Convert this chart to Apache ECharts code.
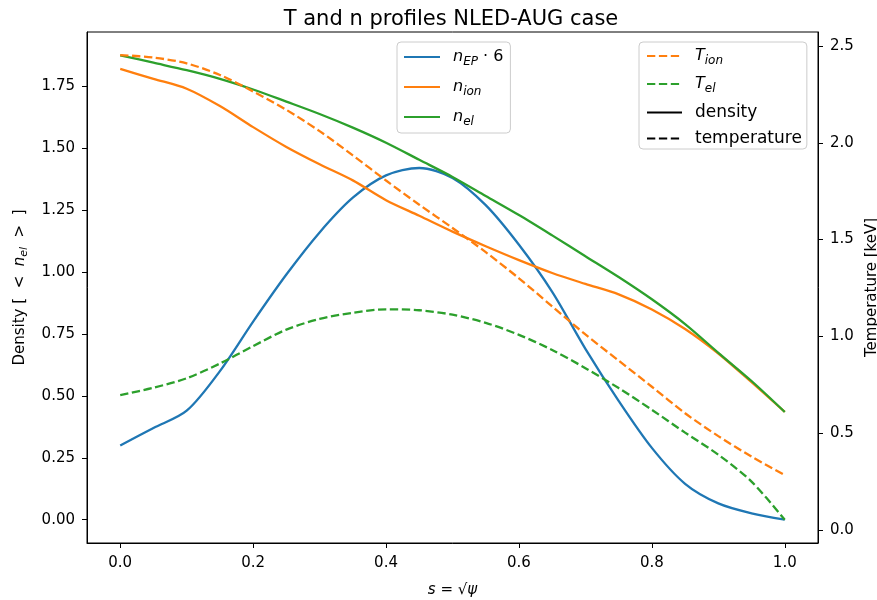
<!DOCTYPE html>
<html>
<head>
<meta charset="utf-8">
<script src="https://cdn.jsdelivr.net/npm/echarts@6/dist/echarts.min.js"></script>
<style>html,body{margin:0;padding:0;background:#fff;overflow:hidden}#chart{width:877px;height:600px}</style>
</head>
<body>
<div id="chart"></div>
<script>
const sVals = [0.0, 0.05, 0.1, 0.15, 0.2, 0.25, 0.3, 0.35, 0.4, 0.45, 0.5, 0.55, 0.6, 0.65, 0.7, 0.75, 0.8, 0.85, 0.9, 0.95, 1.0];
const nEP6 = [0.30, 0.37, 0.44, 0.60, 0.80, 0.99, 1.16, 1.30, 1.39, 1.42, 1.38, 1.27, 1.11, 0.92, 0.69, 0.48, 0.29, 0.145, 0.066, 0.026, 0.0];
const nIon = [1.82, 1.78, 1.74, 1.67, 1.585, 1.505, 1.435, 1.37, 1.29, 1.227, 1.163, 1.104, 1.048, 0.996, 0.952, 0.91, 0.849, 0.77, 0.671, 0.555, 0.435];
const nEl = [1.875, 1.845, 1.815, 1.78, 1.737, 1.688, 1.638, 1.583, 1.522, 1.453, 1.384, 1.307, 1.23, 1.148, 1.064, 0.98, 0.89, 0.79, 0.674, 0.56, 0.435];
const Tion = [2.453, 2.44, 2.41, 2.35, 2.265, 2.17, 2.06, 1.935, 1.805, 1.68, 1.56, 1.435, 1.30, 1.155, 1.01, 0.875, 0.74, 0.603, 0.485, 0.379, 0.284];
const Tel = [0.697, 0.735, 0.784, 0.86, 0.95, 1.035, 1.09, 1.122, 1.14, 1.135, 1.112, 1.07, 1.008, 0.93, 0.836, 0.733, 0.621, 0.503, 0.389, 0.25, 0.053];
const xTicks = [0.0, 0.2, 0.4, 0.6, 0.8, 1.0];
const leftTicks = [0.0, 0.25, 0.5, 0.75, 1.0, 1.25, 1.5, 1.75];
const rightTicks = [0.0, 0.5, 1.0, 1.5, 2.0, 2.5];

const FONT = 'DejaVu Sans';
const C_BLUE = '#1f77b4', C_ORANGE = '#ff7f0e', C_GREEN = '#2ca02c';
const LW = 2.3;
const DASH = [8.3, 3.6];

function pairs(xs, ys) { return xs.map((x, i) => [x, ys[i]]); }

const legRich = {
  sp: { width: 8 },
  i: { fontFamily: FONT, fontStyle: 'italic', fontSize: 16, lineHeight: 22, color: '#000', verticalAlign: 'middle' },
  sub: { fontFamily: FONT, fontStyle: 'italic', fontSize: 12, lineHeight: 13, color: '#000', verticalAlign: 'bottom' },
  r: { fontFamily: FONT, fontSize: 16, lineHeight: 22, color: '#000', verticalAlign: 'middle' },
  t: { fontFamily: FONT, fontSize: 17, lineHeight: 22, color: '#000', verticalAlign: 'middle' }
};
const axRich = {
  i: { fontFamily: FONT, fontStyle: 'italic', fontSize: 15, lineHeight: 20, color: '#000', verticalAlign: 'middle' },
  sub: { fontFamily: FONT, fontStyle: 'italic', fontSize: 11, lineHeight: 12, color: '#000', verticalAlign: 'bottom' },
  r: { fontFamily: FONT, fontSize: 15, lineHeight: 20, color: '#000', verticalAlign: 'middle' }
};
const labelMap = {
  nEP: '{sp|}{i|n}{sub|EP}{r| · 6}',
  nIon: '{sp|}{i|n}{sub|ion}',
  nEl: '{sp|}{i|n}{sub|el}',
  Tion: '{sp|}{i|T}{sub|ion}',
  Tel: '{sp|}{i|T}{sub|el}',
  density: '{sp|}{t|density}',
  temperature: '{sp|}{t|temperature}'
};

function lineSeries(name, ys, color, yIdx, dashed) {
  return {
    name: name, type: 'line', yAxisIndex: yIdx, data: pairs(sVals, ys),
    symbol: 'none', smooth: 0.3, color: color,
    lineStyle: { color: color, width: LW, type: dashed ? DASH : 'solid', cap: 'butt' },
    emphasis: { disabled: true }, z: dashed ? 3 : 2
  };
}

const axisCommon = {
  splitLine: { show: false },
  axisLine: { show: true, onZero: false, lineStyle: { color: '#000', width: 1 } },
  axisTick: { show: true, length: 5, lineStyle: { color: '#000', width: 1 } },
  axisLabel: { fontFamily: FONT, fontSize: 15, color: '#000' }
};

const legendCommon = {
  orient: 'vertical', itemHeight: 14,
  backgroundColor: 'rgba(255,255,255,0.8)', borderColor: '#cccccc', borderWidth: 1, borderRadius: 4,
  formatter: n => labelMap[n], textStyle: { rich: legRich }, selectedMode: false,
  itemStyle: { opacity: 0, borderWidth: 0 }
};

const chart = echarts.init(document.getElementById('chart'), null, { renderer: 'canvas', width: 877, height: 600 });
chart.setOption({
  animation: false,
  backgroundColor: '#fff',
  title: {
    text: 'T and n profiles NLED-AUG case',
    left: 446, top: 4, textAlign: 'center',
    textStyle: { fontFamily: FONT, fontSize: 21, fontWeight: 'normal', color: '#000' }
  },
  grid: { left: 87, right: 59, top: 32, bottom: 57, show: true, borderColor: '#000', borderWidth: 1, backgroundColor: 'transparent', containLabel: false, outerBoundsMode: 'none' },
  legend: [
    Object.assign({}, legendCommon, {
      data: ['nEP', 'nIon', 'nEl'], left: 397, top: 42,
      itemWidth: 36, itemGap: 11, padding: [7, 7, 5, 6]
    }),
    Object.assign({}, legendCommon, {
      data: ['Tion', 'Tel', 'density', 'temperature'], left: 639, top: 42,
      itemWidth: 35, itemGap: 9, padding: [6, 5, 2, 7]
    })
  ],
  xAxis: Object.assign({}, axisCommon, {
    type: 'value', min: -0.05, max: 1.05,
    axisTick: Object.assign({}, axisCommon.axisTick, { customValues: xTicks }),
    axisLabel: Object.assign({}, axisCommon.axisLabel, { customValues: xTicks, margin: 13, formatter: v => v.toFixed(1) }),
    name: '{i|s}{r| = √}{i|ψ}', nameLocation: 'middle', nameGap: 37,
    nameTextStyle: { rich: axRich }
  }),
  yAxis: [
    Object.assign({}, axisCommon, {
      type: 'value', min: -0.094, max: 1.969, position: 'left',
      axisTick: Object.assign({}, axisCommon.axisTick, { customValues: leftTicks }),
      axisLabel: Object.assign({}, axisCommon.axisLabel, { customValues: leftTicks, margin: 12, formatter: v => v.toFixed(2) }),
      name: '{r|Density [  <  }{i|n}{sub|el}{r|  >  ]}', nameLocation: 'middle', nameGap: 57, nameRotate: 90,
      nameTextStyle: { rich: axRich }
    }),
    Object.assign({}, axisCommon, {
      type: 'value', min: -0.067, max: 2.572, position: 'right',
      axisTick: Object.assign({}, axisCommon.axisTick, { customValues: rightTicks }),
      axisLabel: Object.assign({}, axisCommon.axisLabel, { customValues: rightTicks, margin: 12, formatter: v => v.toFixed(1) }),
      name: 'Temperature [keV]', nameLocation: 'middle', nameGap: 42, nameRotate: 90,
      nameTextStyle: { fontFamily: FONT, fontSize: 15, color: '#000' }
    })
  ],
  series: [
    lineSeries('nEP', nEP6, C_BLUE, 0, false),
    lineSeries('nIon', nIon, C_ORANGE, 0, false),
    lineSeries('nEl', nEl, C_GREEN, 0, false),
    lineSeries('Tion', Tion, C_ORANGE, 1, true),
    lineSeries('Tel', Tel, C_GREEN, 1, true),
    { name: 'density', type: 'line', yAxisIndex: 0, data: [], symbol: 'none', color: '#000', lineStyle: { color: '#000', width: LW, type: 'solid' } },
    { name: 'temperature', type: 'line', yAxisIndex: 1, data: [], symbol: 'none', color: '#000', lineStyle: { color: '#000', width: LW, type: DASH } }
  ]
});
</script>
</body>
</html>
